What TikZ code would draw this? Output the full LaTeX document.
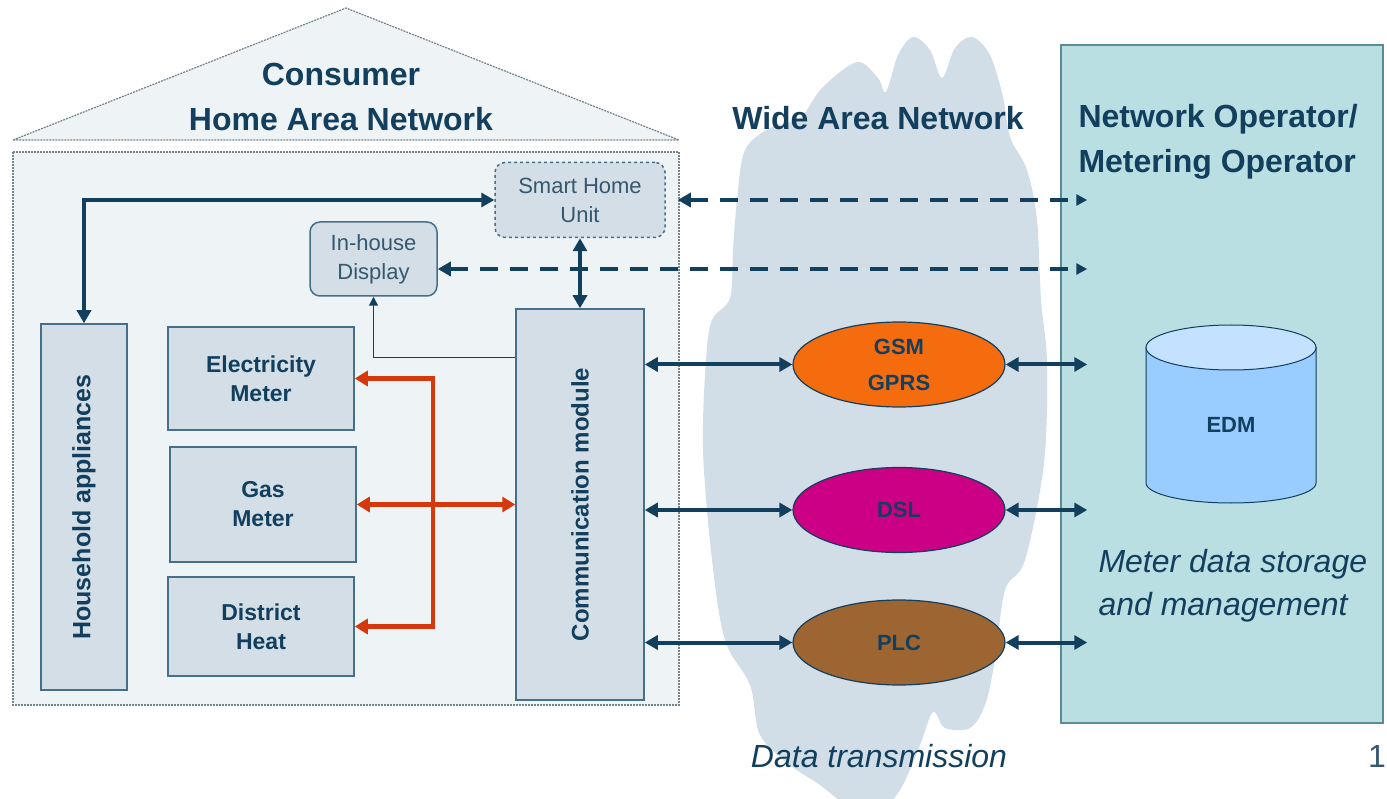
\documentclass[tikz,border=0pt]{standalone}
\usepackage{fontspec}
\setmainfont{Liberation Sans}
\usepackage{graphicx}
\usetikzlibrary{arrows.meta,shapes.geometric,calc}

\definecolor{navy}{HTML}{123F5E}
\definecolor{softnavy}{HTML}{35586F}
\definecolor{boxfill}{HTML}{D3DEE6}
\definecolor{boxline}{HTML}{46708A}
\definecolor{housefill}{HTML}{EEF3F6}
\definecolor{houseline}{HTML}{75838C}
\definecolor{cloudcol}{HTML}{D2DEE7}
\definecolor{opfill}{HTML}{BADFE2}
\definecolor{opline}{HTML}{5A8C96}
\definecolor{redarr}{HTML}{D4380C}
\definecolor{gsmfill}{HTML}{F56C0E}
\definecolor{dslfill}{HTML}{CB0085}
\definecolor{plcfill}{HTML}{9D6532}
\definecolor{edmbody}{HTML}{99CCFF}
\definecolor{edmtop}{HTML}{C4E2FF}

\tikzset{
  house/.style={draw=houseline, fill=housefill, line width=1.2pt, dash pattern=on 2pt off 1pt},
  box/.style={draw=boxline, line width=1.5pt, fill=boxfill, text=navy, align=center, inner sep=0pt,
    font=\bfseries\fontsize{23}{29}\selectfont},
  rbox/.style={box, rounded corners=10pt, text=softnavy, font=\fontsize{22}{29}\selectfont},
  link/.style={ellipse, draw=navy, line width=1.2pt, minimum width=212pt, minimum height=85pt,
    text=navy, align=center, font=\bfseries\fontsize{22}{36}\selectfont},
  title/.style={text=navy, align=center, font=\bfseries\fontsize{32}{45}\selectfont},
  note/.style={text=navy, align=left, font=\itshape\fontsize{32}{43}\selectfont},
  navyarrow/.style={draw=navy, line width=4pt, {Triangle[length=13pt,width=14pt]}-{Triangle[length=13pt,width=14pt]}},
  dasharrow/.style={draw=navy, line width=4pt, dash pattern=on 18pt off 12pt,
    {Triangle[length=13pt,width=14pt]}-{Triangle[length=11pt,width=11pt]}},
  thinarrow/.style={draw=navy, line width=1.5pt, -{Triangle[length=9pt,width=9pt]}},
  redline/.style={draw=redarr, line width=4.5pt, -{Triangle[length=13pt,width=15pt]}},
  redarrow/.style={redline, {Triangle[length=13pt,width=15pt]}-{Triangle[length=13pt,width=15pt]}}
}

\begin{document}
\begin{tikzpicture}[x=1pt,y=-1pt]
  \useasboundingbox (0,0) rectangle (1387,799);

  % consumer house
  \draw[house] (13,140) -- (346,8) -- (679,140) -- cycle;
  \draw[house] (13,152) rectangle (679,705);
  \node[title] (hanT) at (341,97) {Consumer\\Home Area Network};

  % wide area network cloud
  \fill[cloudcol] plot[smooth cycle, tension=0.55] coordinates {
    (737,200) (745,150) (770,128) (800,118) (822,88) (857,62) (878,78) (886,92)
    (898,55) (913,37) (930,50) (942,78) (955,48) (972,37) (990,55) (1003,97)
    (1010,137) (1027,170) (1037,220) (1041,300) (1047,363) (1044,463) (1025,560)
    (1005,590) (995,660) (985,705) (970,728) (945,728) (933,712) (920,745)
    (900,790) (875,815) (850,808) (820,785) (790,765) (760,735) (750,685)
    (725,640) (712,560) (703,450) (706,360) (712,320) (730,298) (733,250)};
  \node[title] (wanT) at (878,118) {Wide Area Network};
  \node[note] (dataT) at (879,756) {Data transmission};

  % operator side
  \node[draw=opline, fill=opfill, line width=1.5pt, minimum width=322pt, minimum height=678pt,
    inner sep=0pt] (op) at (1222,384) {};
  \node[title, align=left, anchor=west] (opT) at (1075,142) {Network Operator/\\Metering Operator};
  \coordinate (opIn) at ([xshift=27pt]op.west);
  \filldraw[fill=edmbody, draw=navy, line width=1pt] (1146,347.5) -- (1146,483)
    arc[start angle=180, end angle=360, x radius=85pt, y radius=20pt] -- (1316,347.5) -- cycle;
  \filldraw[fill=edmtop, draw=navy, line width=1pt] (1231,347.5) circle[x radius=85pt, y radius=22.5pt];
  \node[text=navy, font=\bfseries\fontsize{22}{26}\selectfont] (edm) at (1231,425) {EDM};
  \node[note, anchor=west] (mds) at (1095,586) {Meter data storage\\and management};
  \node[anchor=west, inner sep=0pt, text=softnavy, font=\fontsize{32}{38}\selectfont] (pgNo) at (1368,756) {1};

  % home nodes
  \node[rbox, dashed, minimum width=170pt, minimum height=75pt] (sHU) at (580,200) {Smart Home\\Unit};
  \node[rbox, minimum width=127pt, minimum height=74pt] (iHD) at (373.5,259) {In-house\\Display};
  \node[box, minimum width=86pt, minimum height=366pt, font=\bfseries\fontsize{25}{30}\selectfont]
    (hA) at (84,507) {\rotatebox{90}{Household appliances}};
  \node[box, minimum width=186pt, minimum height=103pt] (eM) at (261,378.5) {Electricity\\Meter};
  \node[box, minimum width=186pt, minimum height=115pt] (gM) at (263,504.5) {Gas\\Meter};
  \node[box, minimum width=186pt, minimum height=99pt] (dH) at (261,626.5) {District\\Heat};
  \node[box, minimum width=128pt, minimum height=391pt, font=\bfseries\fontsize{24}{30}\selectfont]
    (cM) at (580,504.5) {\rotatebox{90}{Communication module}};

  % links
  \node[link, fill=gsmfill] (gsm) at (899,364.5) {GSM\\GPRS};
  \node[link, fill=dslfill] (dsl) at (899,510) {DSL};
  \node[link, fill=plcfill] (plc) at (899,642.5) {PLC};

  % connectors
  \draw[navyarrow] (hA.north) |- (sHU.west);
  \draw[navyarrow] (sHU.south) -- (cM.north);
  \draw[thinarrow] ($(cM.north west)!0.125!(cM.south west)$) -| (iHD.south);
  \draw[dasharrow] ([xshift=12pt]sHU.east) -- (opIn |- sHU.east);
  \coordinate (iHDport) at ([yshift=-10pt]iHD.east);
  \draw[dasharrow] (iHDport) -- (opIn |- iHDport);
  \coordinate (rJ) at ($(gM.east)!0.48!(cM.west)$);
  \draw[redarrow] (gM.east) -- (cM.west);
  \draw[redline] (rJ) |- (eM.east);
  \draw[redline] (rJ) |- (dH.east);
  \foreach \lk in {gsm,dsl,plc} {
    \draw[navyarrow] (cM.east |- \lk.west) -- (\lk.west);
    \draw[navyarrow] (\lk.east) -- (opIn |- \lk.east);
  }
\end{tikzpicture}
\end{document}
